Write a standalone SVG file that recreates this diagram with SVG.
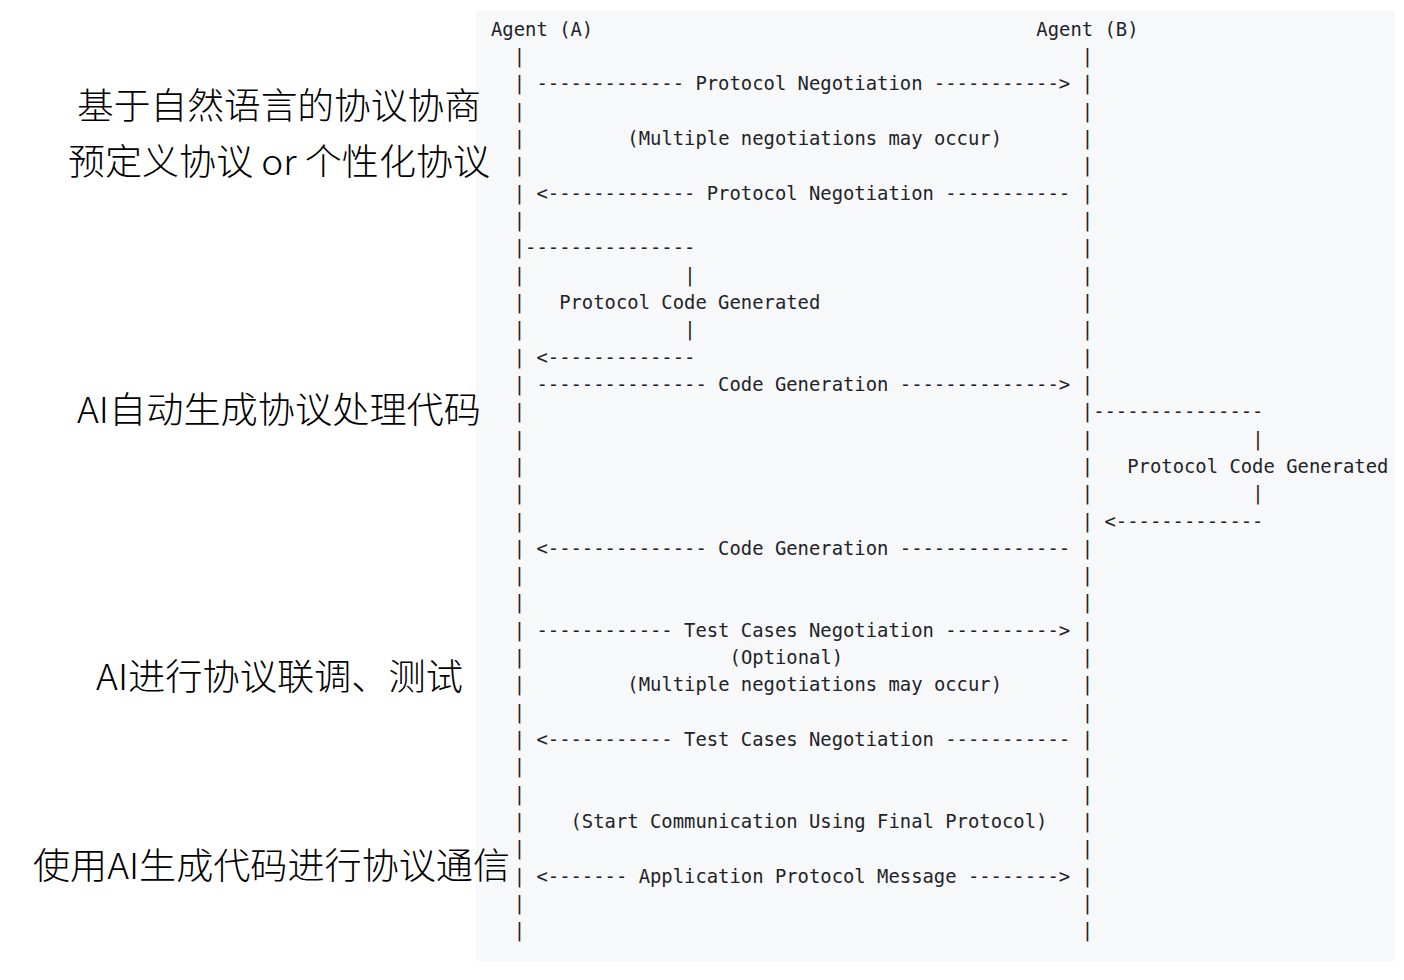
<svg xmlns="http://www.w3.org/2000/svg" width="1404" height="980" viewBox="0 0 1404 980">
<style>
.m{font-family:"DejaVu Sans Mono","Liberation Mono",monospace;font-size:18.87px;fill:#1f2328;white-space:pre}
.z{font-family:"Noto Sans CJK SC","Noto Sans",sans-serif;font-size:36px;font-weight:300;fill:#000}
</style>
<rect width="1404" height="980" fill="#ffffff"/>
<rect id="code-block" x="476" y="11" width="919" height="950" fill="#f6f8fa"/>
<g id="agent-a"><text class="m" x="491" y="35.7">Agent (A)</text></g>
<g id="agent-b"><text class="m" x="1036.33" y="35.7">Agent (B)</text></g>
<g id="connectors">
<g id="lifeline-a">
<text class="m" x="513.72" y="63.0">|</text>
<text class="m" x="513.72" y="90.3">|</text>
<text class="m" x="513.72" y="117.6">|</text>
<text class="m" x="513.72" y="145.0">|</text>
<text class="m" x="513.72" y="172.3">|</text>
<text class="m" x="513.72" y="199.6">|</text>
<text class="m" x="513.72" y="226.9">|</text>
<text class="m" x="513.72" y="254.3">|</text>
<text class="m" x="513.72" y="281.6">|</text>
<text class="m" x="513.72" y="308.9">|</text>
<text class="m" x="513.72" y="336.2">|</text>
<text class="m" x="513.72" y="363.5">|</text>
<text class="m" x="513.72" y="390.9">|</text>
<text class="m" x="513.72" y="418.2">|</text>
<text class="m" x="513.72" y="445.5">|</text>
<text class="m" x="513.72" y="472.8">|</text>
<text class="m" x="513.72" y="500.1">|</text>
<text class="m" x="513.72" y="527.5">|</text>
<text class="m" x="513.72" y="554.8">|</text>
<text class="m" x="513.72" y="582.1">|</text>
<text class="m" x="513.72" y="609.4">|</text>
<text class="m" x="513.72" y="636.7">|</text>
<text class="m" x="513.72" y="664.1">|</text>
<text class="m" x="513.72" y="691.4">|</text>
<text class="m" x="513.72" y="718.7">|</text>
<text class="m" x="513.72" y="746.0">|</text>
<text class="m" x="513.72" y="773.3">|</text>
<text class="m" x="513.72" y="800.7">|</text>
<text class="m" x="513.72" y="828.0">|</text>
<text class="m" x="513.72" y="855.3">|</text>
<text class="m" x="513.72" y="882.6">|</text>
<text class="m" x="513.72" y="909.9">|</text>
<text class="m" x="513.72" y="937.3">|</text>
</g>
<g id="lifeline-b">
<text class="m" x="1081.77" y="63.0">|</text>
<text class="m" x="1081.77" y="90.3">|</text>
<text class="m" x="1081.77" y="117.6">|</text>
<text class="m" x="1081.77" y="145.0">|</text>
<text class="m" x="1081.77" y="172.3">|</text>
<text class="m" x="1081.77" y="199.6">|</text>
<text class="m" x="1081.77" y="226.9">|</text>
<text class="m" x="1081.77" y="254.3">|</text>
<text class="m" x="1081.77" y="281.6">|</text>
<text class="m" x="1081.77" y="308.9">|</text>
<text class="m" x="1081.77" y="336.2">|</text>
<text class="m" x="1081.77" y="363.5">|</text>
<text class="m" x="1081.77" y="390.9">|</text>
<text class="m" x="1081.77" y="418.2">|</text>
<text class="m" x="1081.77" y="445.5">|</text>
<text class="m" x="1081.77" y="472.8">|</text>
<text class="m" x="1081.77" y="500.1">|</text>
<text class="m" x="1081.77" y="527.5">|</text>
<text class="m" x="1081.77" y="554.8">|</text>
<text class="m" x="1081.77" y="582.1">|</text>
<text class="m" x="1081.77" y="609.4">|</text>
<text class="m" x="1081.77" y="636.7">|</text>
<text class="m" x="1081.77" y="664.1">|</text>
<text class="m" x="1081.77" y="691.4">|</text>
<text class="m" x="1081.77" y="718.7">|</text>
<text class="m" x="1081.77" y="746.0">|</text>
<text class="m" x="1081.77" y="773.3">|</text>
<text class="m" x="1081.77" y="800.7">|</text>
<text class="m" x="1081.77" y="828.0">|</text>
<text class="m" x="1081.77" y="855.3">|</text>
<text class="m" x="1081.77" y="882.6">|</text>
<text class="m" x="1081.77" y="909.9">|</text>
<text class="m" x="1081.77" y="937.3">|</text>
</g>
<text class="m" x="536.44" y="90.3">------------- Protocol Negotiation -----------&gt;</text>
<text class="m" x="627.33" y="145.0">(Multiple negotiations may occur)</text>
<text class="m" x="536.44" y="199.6">&lt;------------- Protocol Negotiation -----------</text>
<text class="m" x="525.08" y="254.3">---------------</text>
<text class="m" x="684.14" y="281.6">|</text>
<text class="m" x="559.17" y="308.9">Protocol Code Generated</text>
<text class="m" x="684.14" y="336.2">|</text>
<text class="m" x="536.44" y="363.5">&lt;-------------</text>
<text class="m" x="536.44" y="390.9">--------------- Code Generation --------------&gt;</text>
<text class="m" x="1093.13" y="418.2">---------------</text>
<text class="m" x="1252.19" y="445.5">|</text>
<text class="m" x="1127.22" y="472.8">Protocol Code Generated</text>
<text class="m" x="1252.19" y="500.1">|</text>
<text class="m" x="1104.49" y="527.5">&lt;-------------</text>
<text class="m" x="536.44" y="554.8">&lt;-------------- Code Generation ---------------</text>
<text class="m" x="536.44" y="636.7">------------ Test Cases Negotiation ----------&gt;</text>
<text class="m" x="729.58" y="664.1">(Optional)</text>
<text class="m" x="627.33" y="691.4">(Multiple negotiations may occur)</text>
<text class="m" x="536.44" y="746.0">&lt;----------- Test Cases Negotiation -----------</text>
<text class="m" x="570.53" y="828.0">(Start Communication Using Final Protocol)</text>
<text class="m" x="536.44" y="882.6">&lt;------- Application Protocol Message --------&gt;</text>
</g>
<g id="stage-labels">
<g id="stage-1"><text class="z" x="77" y="119" textLength="404" lengthAdjust="spacingAndGlyphs">基于自然语言的协议协商</text>
<text class="z" x="68" y="175" textLength="422" lengthAdjust="spacingAndGlyphs">预定义协议 or 个性化协议</text></g>
<g id="stage-2"><text class="z" x="77" y="423" textLength="404" lengthAdjust="spacingAndGlyphs">AI自动生成协议处理代码</text></g>
<g id="stage-3"><text class="z" x="96" y="690" textLength="367" lengthAdjust="spacingAndGlyphs">AI进行协议联调、测试</text></g>
<g id="stage-4"><text class="z" x="33" y="879" textLength="477" lengthAdjust="spacingAndGlyphs">使用AI生成代码进行协议通信</text></g>
</g>
</svg>
